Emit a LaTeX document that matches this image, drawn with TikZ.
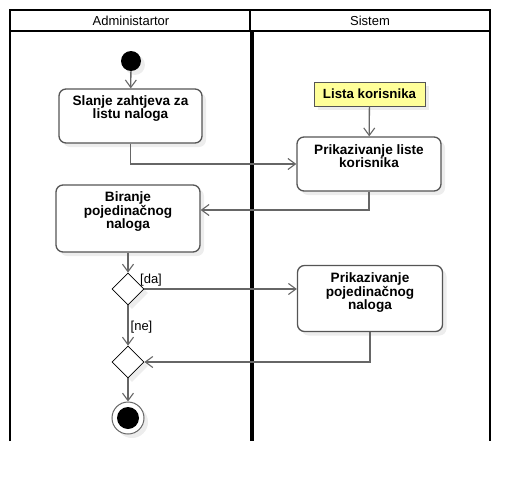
\documentclass[tikz,border=0pt]{standalone}
\usepackage{fontspec}
\setmainfont{Liberation Sans}
\usetikzlibrary{arrows.meta,shapes.geometric,shadows,calc}
\definecolor{linec}{HTML}{666666}
\definecolor{boxc}{HTML}{555555}
\definecolor{shadc}{HTML}{EDEDED}
\definecolor{objfill}{HTML}{FFFF99}
\begin{document}
\begin{tikzpicture}[x=1pt,y=-1pt,
  conn/.style={draw=linec, line width=1.3pt, -{Straight Barb[length=7.5pt,width=11pt,line width=1.1pt]}},
  shad/.style={general shadow={fill=shadc, shadow xshift=4pt, shadow yshift=-4pt}},
  actbox/.style={draw=boxc, line width=1.3pt, rounded corners=7pt, fill=white, shad, inner sep=0pt},
  acttext/.style={font=\fontsize{13.6}{12.9}\selectfont\bfseries, align=center, inner sep=0pt, anchor=north},
  lanetext/.style={font=\fontsize{13}{13}\selectfont, inner sep=0pt},
  guard/.style={font=\fontsize{13}{13}\selectfont, inner sep=0pt},
  decision/.style={diamond, aspect=1, draw=black, line width=0.8pt, fill=white, minimum width=32pt, minimum height=32pt, inner sep=0pt, shad},
  lane/.style={draw=black, line width=2pt},
]
\useasboundingbox (0,0) rectangle (530,482);
% swimlanes
\draw[lane] (10,441) -- (10,10) -- (490,10) -- (490,441);
\draw[lane] (10,31) -- (490,31);
\draw[lane] (250,10) -- (250,31);
\draw[draw=black, line width=4.5pt] (252,31) -- (252,441);
\node[lanetext] (h1) at (131,21) {Administartor};
\node[lanetext] (h2) at (370,21) {Sistem};
% nodes
\node[circle, fill=black, minimum size=20pt, inner sep=0pt, shad] (init) at (131,61) {};
\node[actbox, minimum width=143pt, minimum height=54pt] (b1) at (130.5,116) {};
\node[acttext] (t1) at ([yshift=-7.5pt]b1.north) {Slanje zahtjeva za\\listu naloga};
\node[draw=boxc, line width=1pt, fill=objfill, minimum width=111pt, minimum height=24pt, inner sep=0pt, shad, font=\fontsize{13.3}{13}\selectfont\bfseries] (lista) at (369.5,94) {Lista korisnika};
\node[actbox, minimum width=144pt, minimum height=54pt] (b2) at (369,164) {};
\node[acttext] (t2) at ([yshift=-8pt]b2.north) {Prikazivanje liste\\korisnika};
\node[actbox, minimum width=144pt, minimum height=67pt] (b3) at (128,218.5) {};
\node[acttext] (t3) at ([yshift=-7.5pt]b3.north) {Biranje\\pojedinačnog\\naloga};
\node[decision] (d1) at (128,289) {};
\node[actbox, minimum width=145pt, minimum height=66pt] (b4) at (370,298.5) {};
\node[acttext] (t4) at ([yshift=-7.5pt]b4.north) {Prikazivanje\\pojedinačnog\\naloga};
\node[decision] (d2) at (128,362) {};
\node[circle, draw=linec, line width=1pt, fill=white, minimum size=32pt, inner sep=0pt, shad] (fin) at (128,418) {};
\fill[black] (fin.center) circle[radius=11pt];
% connectors
\draw[conn] (init) -- (b1);
\draw[conn] (b1.south) |- (b2.west);
\draw[conn] (lista) -- (b2);
\draw[conn] (b2.south) |- ([yshift=8.5pt]b3.east);
\draw[conn] (b3) -- (d1);
\draw[conn] (d1.east) -- (d1.east -| b4.west);
\draw[conn] (d1) -- (d2);
\draw[conn] (b4.south) |- (d2.east);
\draw[conn] (d2) -- (fin);
\node[guard] (g1) at (151,280) {[da]};
\node[guard] (g2) at (141.5,327) {[ne]};
\end{tikzpicture}
\end{document}
